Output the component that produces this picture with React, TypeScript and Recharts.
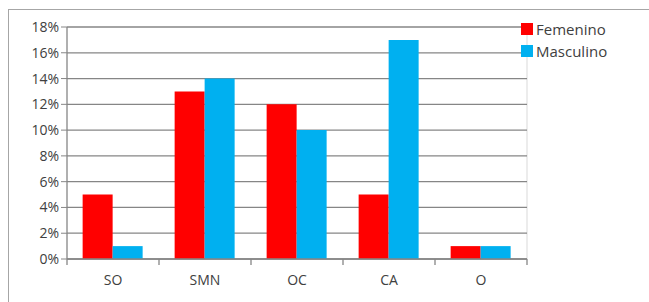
import React from "react";
import { BarChart, Bar, XAxis, YAxis, CartesianGrid } from "recharts";

const categories = ["SO", "SMN", "OC", "CA", "O"];
const femenino = [0.05, 0.13, 0.12, 0.05, 0.01];
const masculino = [0.01, 0.14, 0.10, 0.17, 0.01];
const yTicks = [0, 0.02, 0.04, 0.06, 0.08, 0.1, 0.12, 0.14, 0.16, 0.18];

const data = categories.map((c, i) => ({ cat: c, Femenino: femenino[i], Masculino: masculino[i] }));

const C = {
  red: "#ff0000",
  blue: "#00b0f0",
  grid: "#868686",
  text: "#404040",
  frame: "#a6a6a6",
  light: "#d9d9d9",
};

const FONT = "'Open Sans', sans-serif";

// category label plus tick marks on the category boundaries (Excel style)
function CatTick(props: any) {
  const { x, y, payload, index, visibleTicksCount } = props;
  const half = payload.offset || 0;
  const last = index === (visibleTicksCount ?? categories.length) - 1;
  return (
    <g>
      <line x1={x - half} x2={x - half} y1={y} y2={y + 6} stroke={C.grid} strokeWidth={1.3} />
      {last && <line x1={x + half} x2={x + half} y1={y} y2={y + 6} stroke={C.grid} strokeWidth={1.3} />}
      <text x={x} y={y + 26} textAnchor="middle" fill={C.text} fontSize={14} fontFamily={FONT}>
        {payload.value}
      </text>
    </g>
  );
}

function LegendBox() {
  const items = [
    { name: "Femenino", color: C.red },
    { name: "Masculino", color: C.blue },
  ];
  return (
    <div style={{ position: "absolute", left: 521, top: 18, fontFamily: FONT, fontSize: 15, color: C.text }}>
      {items.map((it) => (
        <div key={it.name} style={{ display: "flex", alignItems: "center", height: 22 }}>
          <span style={{ width: 12, height: 12, background: it.color, marginRight: 3, display: "inline-block" }} />
          <span>{it.name}</span>
        </div>
      ))}
    </div>
  );
}

export default function App() {
  return (
    <div style={{ position: "absolute", left: 0, top: 0, width: 649, height: 302, background: "#fff", overflow: "hidden" }}>
      {/* outer frame */}
      <div style={{ position: "absolute", left: 8, top: 9, width: 700, height: 400, border: `1px solid ${C.frame}` }} />
      <div style={{ position: "absolute", left: 0, top: 0 }}>
        <BarChart width={649} height={302} data={data}
          margin={{ top: 27, right: 122, bottom: 13, left: 7 }}
          barCategoryGap="17%" barGap={0}>
          <CartesianGrid horizontal={false} stroke={C.light}
            verticalCoordinatesGenerator={({ offset }: any) => [offset.left + offset.width]} />
          <CartesianGrid vertical={false} stroke={C.grid} strokeWidth={1.3} />
          <XAxis dataKey="cat" height={30} tickSize={0} tickMargin={0} tickLine={false}
            axisLine={{ stroke: C.grid, strokeWidth: 1.3 }} tick={<CatTick />} />
          <YAxis width={60} domain={[0, 0.18]} ticks={yTicks} tickSize={6}
            tickFormatter={(v: number) => `${Math.round(v * 100)}%`}
            tick={{ fill: C.text, fontSize: 14, fontFamily: FONT }}
            tickLine={{ stroke: C.grid }} axisLine={{ stroke: C.grid, strokeWidth: 1.3 }} />
          <Bar dataKey="Femenino" fill={C.red} isAnimationActive={false} />
          <Bar dataKey="Masculino" fill={C.blue} isAnimationActive={false} />
        </BarChart>
      </div>
      <LegendBox />
    </div>
  );
}
